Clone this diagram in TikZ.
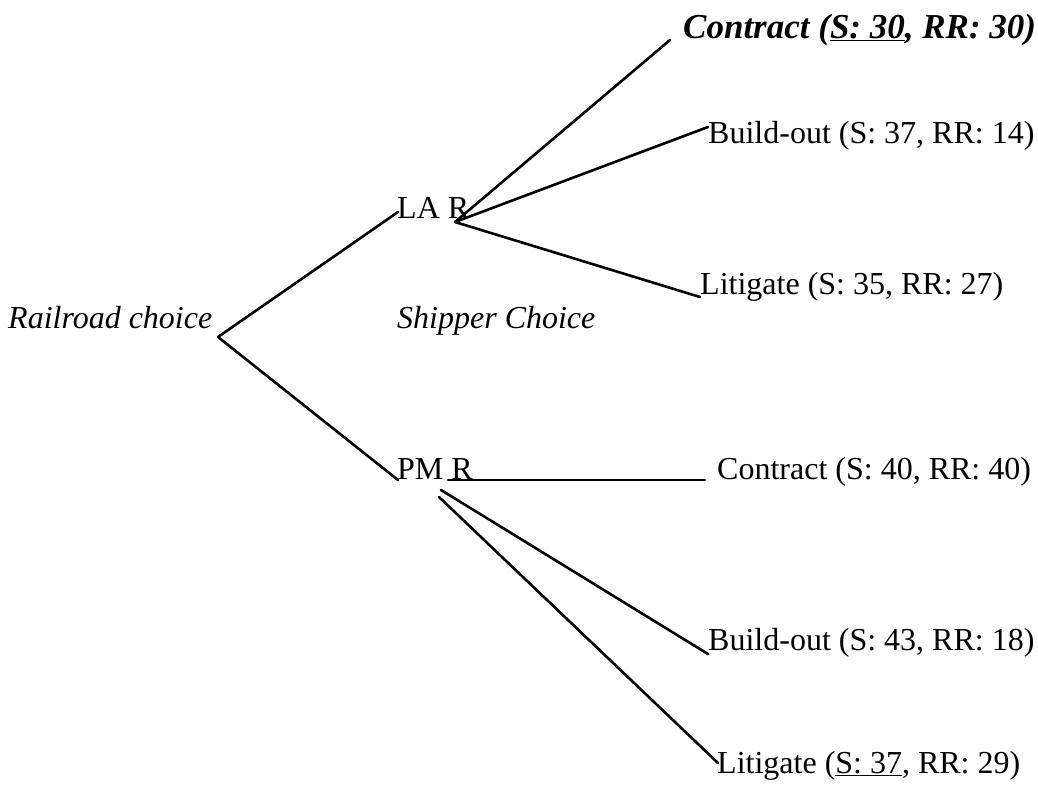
\documentclass[tikz,border=0pt]{standalone}
\usepackage{fontspec}
\setmainfont{Liberation Serif}
\begin{document}
\begin{tikzpicture}[x=1pt,y=-1pt,
  lbl/.style={anchor=base west,inner sep=0pt,font=\fontsize{32}{38}\selectfont},
  edge/.style={line width=2.6pt,line cap=round}]
\useasboundingbox (0,0) rectangle (1038,787);
% text nodes
\node[lbl,font=\fontsize{35}{42}\selectfont\bfseries\itshape] (c1) at (683,38) {Contract (\underline{S: 30}, RR: 30)};
\node[lbl] (b1) at (708,143) {Build-out (S: 37, RR: 14)};
\node[lbl] (la) at (397,218) {LA R};
\node[lbl] (l1) at (700,294) {Litigate (S: 35, RR: 27)};
\node[lbl,font=\fontsize{32}{38}\selectfont\itshape] (rc) at (8,328) {Railroad choice};
\node[lbl,font=\fontsize{32}{38}\selectfont\itshape] (sc) at (397,328) {Shipper Choice};
\node[lbl] (pm) at (397,479) {PM R};
\node[lbl] (c2) at (717,479) {Contract (S: 40, RR: 40)};
\node[lbl] (b2) at (708,650) {Build-out (S: 43, RR: 18)};
\node[lbl] (l2) at (717,773) {Litigate (\underline{S: 37}, RR: 29)};
% connector end points
\coordinate (root) at (218,337);
\coordinate (laIn) at (398,212);
\coordinate (pmIn) at (398,480);
\coordinate (laOut) at (455,222);
\coordinate (c1In) at (670,40);
\coordinate (b1In) at (708,127);
\coordinate (l1In) at (700,297);
\coordinate (pmOut) at (448,480);
\coordinate (c2In) at (705,480);
\coordinate (pmOut2) at (441,490);
\coordinate (b2In) at (708,654);
\coordinate (pmOut3) at (439,497);
\coordinate (l2In) at (718,763);
% connectors
\draw[edge] (root) -- (laIn);
\draw[edge] (root) -- (pmIn);
\draw[edge] (laOut) -- (c1In);
\draw[edge] (laOut) -- (b1In);
\draw[edge] (laOut) -- (l1In);
\draw[edge] (pmOut) -- (c2In);
\draw[edge] (pmOut2) -- (b2In);
\draw[edge] (pmOut3) -- (l2In);
\end{tikzpicture}
\end{document}
